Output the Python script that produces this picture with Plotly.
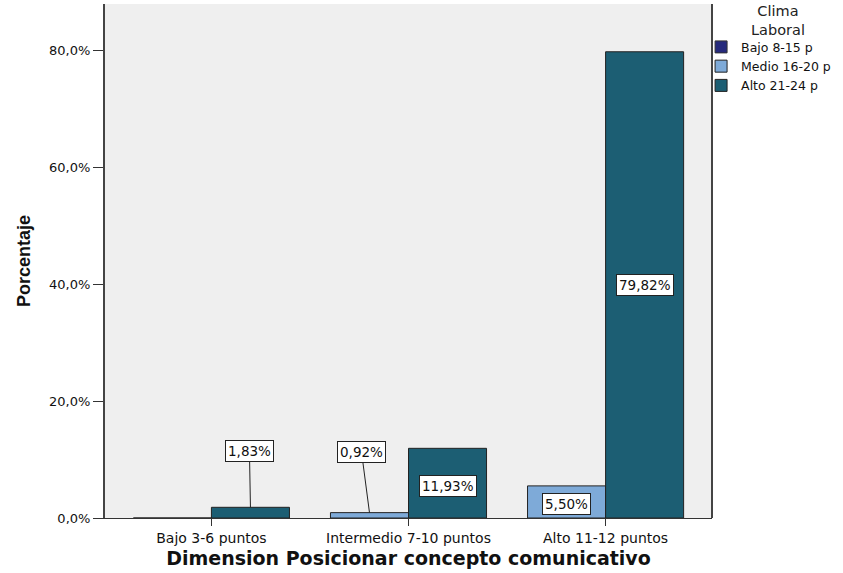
import plotly.graph_objects as go

categories = ["Bajo 3-6 puntos", "Intermedio 7-10 puntos", "Alto 11-12 puntos"]
series_names = ["Bajo 8-15 p", "Medio 16-20 p", "Alto 21-24 p"]
medio_vals = [0.0, 0.92, 5.50]
alto_vals = [1.83, 11.93, 79.82]
medio_labels = [None, "0,92%", "5,50%"]
alto_labels = ["1,83%", "11,93%", "79,82%"]
tick_vals = [0, 20, 40, 60, 80]
tick_text = ["0,0%", "20,0%", "40,0%", "60,0%", "80,0%"]
legend_title = "Clima<br>Laboral"

c_bajo = "#262a7c"
c_medio = "#7eaad8"
c_alto = "#1c5e73"
bw = 0.396
FONT = "DejaVu Sans, Verdana, sans-serif"

fig = go.Figure()
fig.add_trace(go.Bar(name=series_names[0], x=[None], y=[None],
                     marker=dict(color=c_bajo, line=dict(color="#333", width=1))))
fig.add_trace(go.Bar(name=series_names[1], x=list(range(3)), y=medio_vals,
                     offset=-bw, width=bw,
                     marker=dict(color=c_medio, line=dict(color="#222", width=1))))
fig.add_trace(go.Bar(name=series_names[2], x=list(range(3)), y=alto_vals,
                     offset=0, width=bw,
                     marker=dict(color=c_alto, line=dict(color="#222", width=1))))

ann = []
box = dict(bgcolor="white", bordercolor="#222", borderwidth=1, borderpad=2,
           font=dict(family=FONT, size=13.5, color="#111"))
ann.append(dict(x=0 + bw / 2, y=alto_vals[0], xref="x", yref="y", text=alto_labels[0],
                showarrow=True, arrowhead=0, arrowwidth=1, arrowcolor="#222",
                ax=-1, ay=-56, standoff=0, **box))
ann.append(dict(x=1 - bw / 2, y=medio_vals[1], xref="x", yref="y", text=medio_labels[1],
                showarrow=True, arrowhead=0, arrowwidth=1, arrowcolor="#222",
                ax=-8, ay=-61, standoff=0, **box))
ann.append(dict(x=1 + bw / 2, y=alto_vals[1] / 2 - 0.5, xref="x", yref="y",
                text=alto_labels[1], showarrow=False, **box))
ann.append(dict(x=2 - bw / 2, y=medio_vals[2] / 2 - 0.3, xref="x", yref="y",
                text=medio_labels[2], showarrow=False, **box))
ann.append(dict(x=2 + bw / 2, y=alto_vals[2] / 2, xref="x", yref="y",
                text=alto_labels[2], showarrow=False, **box))
# legend title, centered above the legend entries
ann.append(dict(x=1.109, y=0.967, xref="paper", yref="paper", text=legend_title,
                showarrow=False, xanchor="center", yanchor="middle", align="center",
                font=dict(family=FONT, size=14.5, color="#222")))

fig.update_layout(
    width=843, height=573,
    barmode="overlay",
    margin=dict(l=105, r=131, t=4, b=55, autoexpand=False),
    paper_bgcolor="white",
    plot_bgcolor="#efefef",
    annotations=ann,
    showlegend=True,
    legend=dict(x=0.982, y=0.945, xanchor="left", yanchor="top",
                font=dict(family=FONT, size=12.5, color="#111"),
                tracegroupgap=0, itemwidth=30, traceorder="normal",
                bgcolor="rgba(0,0,0,0)"),
    xaxis=dict(range=[-0.54, 2.54], tickmode="array", tickvals=[0, 1, 2], ticktext=categories,
               ticks="outside", ticklen=7, tickcolor="#333", showgrid=False, zeroline=False,
               showline=True, linecolor="#333", linewidth=1, mirror=False,
               tickfont=dict(family=FONT, size=14, color="#111"),
               title=dict(text="<b>Dimension Posicionar concepto comunicativo</b>",
                          font=dict(family=FONT, size=19, color="#111"), standoff=6)),
    yaxis=dict(range=[0, 88], tickmode="array", tickvals=tick_vals, ticktext=tick_text,
               ticks="outside", ticklen=10, tickcolor="#333", showgrid=False, zeroline=False,
               showline=True, linecolor="#444", linewidth=2,
               tickfont=dict(family=FONT, size=13, color="#111"),
               title=dict(text="<b>Porcentaje</b>",
                          font=dict(family="Liberation Sans, Arial", size=18, color="#111"),
                          standoff=14)),
    shapes=[dict(type="line", xref="paper", yref="paper", x0=1, x1=1, y0=0, y1=1,
                 line=dict(color="#444", width=2))],
)

fig.write_html("out.html", config={"displayModeBar": False},
               post_script="document.body.style.margin='0';")
